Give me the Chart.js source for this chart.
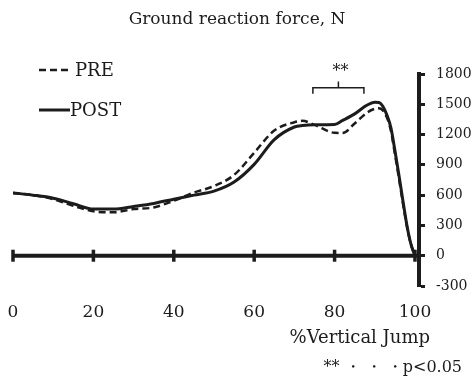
<!DOCTYPE html>
<html>
<head>
<meta charset="utf-8">
<title>Ground reaction force</title>
<script src="https://cdn.jsdelivr.net/npm/chart.js@4.4.0/dist/chart.umd.min.js"></script>
<style>
  html, body { margin: 0; padding: 0; background: #fff; }
  #wrap { width: 474px; height: 392px; }
</style>
</head>
<body>
<div id="wrap"><canvas id="grf" width="474" height="392"></canvas></div>
<script>
// Datos (% del salto vs. fuerza en N)
const pct = [0, 5, 10, 15, 20, 25, 30, 35, 40, 45, 50, 55, 60, 65, 70, 72, 75, 80, 82, 85, 88, 90, 91, 92, 93, 94, 95, 96, 97, 98, 99, 100];
const pre = [622, 600, 560, 495, 440, 430, 462, 478, 545, 625, 690, 800, 1020, 1240, 1322, 1336, 1296, 1217, 1215, 1310, 1415, 1455, 1460, 1440, 1370, 1240, 1010, 770, 520, 290, 110, 0];
const post = [622, 600, 570, 515, 462, 462, 488, 518, 560, 600, 640, 730, 905, 1150, 1275, 1290, 1298, 1300, 1340, 1405, 1490, 1520, 1518, 1480, 1395, 1270, 1045, 800, 545, 300, 115, 0];

const seriesNames = ["PRE", "POST"];
const xTicks = { min: 0, max: 100, step: 20 };
const yTicks = { min: -300, max: 1800, step: 300 };

// Corchete de significación (**) entre ~75% y ~87%
const bracket = { from: 74.6, to: 87.3, level: 1665, legs: 1605, top: 1725, stars: 1865 };

const FONT = '"DejaVu Serif", "Liberation Serif", serif';
const INK = "#1c1c1c";

function toPoints(values) {
  return values.map((v, i) => ({ x: pct[i], y: v }));
}

// Eje horizontal en y = 0 con sus marcas
const zeroAxis = {
  id: "zeroAxis",
  beforeDatasetsDraw(chart) {
    const { ctx, chartArea, scales } = chart;
    const y0 = scales.y.getPixelForValue(0);
    ctx.save();
    ctx.strokeStyle = INK;
    ctx.lineWidth = 4;
    ctx.beginPath();
    ctx.moveTo(scales.x.getPixelForValue(0) - 1, y0);
    ctx.lineTo(chartArea.right, y0);
    ctx.stroke();
    ctx.lineWidth = 3.5;
    scales.x.ticks.forEach((t) => {
      const px = scales.x.getPixelForValue(t.value);
      ctx.beginPath();
      ctx.moveTo(px, y0 - 6);
      ctx.lineTo(px, y0 + 6);
      ctx.stroke();
    });
    ctx.restore();
  },
};

// Título, leyenda, corchete y notas
const annotations = {
  id: "annotations",
  afterDraw(chart) {
    const { ctx, scales } = chart;
    ctx.save();
    ctx.fillStyle = INK;
    ctx.strokeStyle = INK;
    ctx.textBaseline = "middle";

    ctx.font = "17px " + FONT;
    ctx.textAlign = "center";
    ctx.fillText("Ground reaction force, N", 237, 20);

    // leyenda
    const rows = [
      { y: 70, x1: 39, x2: 68, tx: 75 },
      { y: 110, x1: 39, x2: 70, tx: 70 },
    ];
    chart.data.datasets.forEach((ds, i) => {
      const r = rows[i];
      ctx.save();
      ctx.lineWidth = ds.borderWidth;
      ctx.setLineDash(ds.borderDash || []);
      ctx.beginPath();
      ctx.moveTo(r.x1, r.y);
      ctx.lineTo(r.x2, r.y);
      ctx.stroke();
      ctx.restore();
      ctx.font = "18px " + FONT;
      ctx.textAlign = "left";
      ctx.fillText(ds.label, r.tx, r.y + 1);
    });

    // corchete
    const bx1 = scales.x.getPixelForValue(bracket.from);
    const bx2 = scales.x.getPixelForValue(bracket.to);
    const bxm = (bx1 + bx2) / 2;
    const by = scales.y.getPixelForValue(bracket.level);
    ctx.lineWidth = 1.5;
    ctx.beginPath();
    ctx.moveTo(bx1, scales.y.getPixelForValue(bracket.legs));
    ctx.lineTo(bx1, by);
    ctx.lineTo(bx2, by);
    ctx.lineTo(bx2, scales.y.getPixelForValue(bracket.legs));
    ctx.moveTo(bxm, by);
    ctx.lineTo(bxm, scales.y.getPixelForValue(bracket.top));
    ctx.stroke();
    ctx.font = "16px " + FONT;
    ctx.textAlign = "center";
    ctx.fillText("**", bxm + 2, scales.y.getPixelForValue(bracket.stars) + 4);

    // título del eje x y nota
    ctx.textAlign = "right";
    ctx.font = "18px " + FONT;
    ctx.fillText("%Vertical Jump", 430, 338);
    ctx.font = "16px " + FONT;
    ctx.fillText("** ・ ・ ・p<0.05", 462, 368);
    ctx.restore();
  },
};

new Chart(document.getElementById("grf"), {
  type: "line",
  data: {
    datasets: [
      {
        label: seriesNames[0],
        data: toPoints(pre),
        borderColor: INK,
        borderWidth: 2.5,
        borderDash: [7, 4],
        pointRadius: 0,
        fill: false,
        cubicInterpolationMode: "monotone",
      },
      {
        label: seriesNames[1],
        data: toPoints(post),
        borderColor: INK,
        borderWidth: 3,
        pointRadius: 0,
        fill: false,
        cubicInterpolationMode: "monotone",
      },
    ],
  },
  options: {
    responsive: false,
    animation: false,
    layout: { padding: { top: 74, left: 13, right: 0, bottom: 0 } },
    plugins: {
      legend: { display: false },
      tooltip: { enabled: false },
      title: { display: false },
    },
    scales: {
      x: {
        type: "linear",
        min: xTicks.min,
        max: xTicks.max + 1,
        ticks: {
          stepSize: xTicks.step,
          includeBounds: false,
          padding: 16,
          color: INK,
          maxRotation: 0,
          font: { family: FONT, size: 17 },
        },
        grid: { display: false, drawTicks: false },
        border: { display: false },
        afterFit(s) {
          s.height = 106;
          s.paddingLeft = 0;
          s.paddingRight = 0;
        },
      },
      y: {
        position: "right",
        min: yTicks.min,
        max: yTicks.max,
        ticks: {
          stepSize: yTicks.step,
          padding: 11,
          color: INK,
          font: { family: FONT, size: 14 },
          callback: (v) => String(v),
        },
        grid: {
          drawOnChartArea: false,
          drawTicks: true,
          tickLength: 6,
          tickWidth: 3,
          tickColor: INK,
        },
        border: { display: true, width: 4, color: INK },
        afterFit(s) {
          s.width = 55;
        },
      },
    },
  },
  plugins: [zeroAxis, annotations],
});
</script>
</body>
</html>
